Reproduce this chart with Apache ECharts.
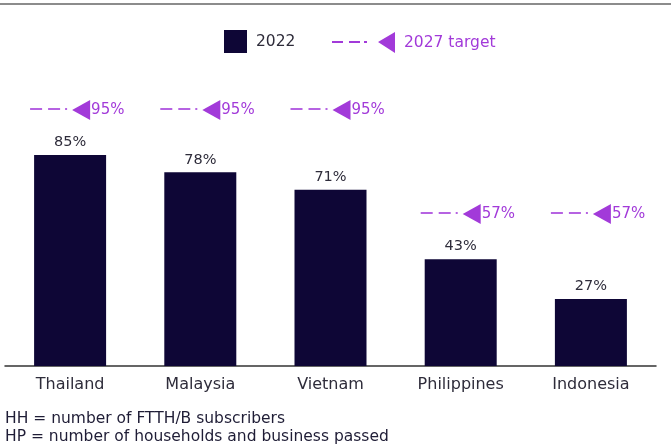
<!DOCTYPE html>
<html>
<head>
<meta charset="utf-8">
<script src="https://cdn.jsdelivr.net/npm/echarts@6/dist/echarts.min.js"></script>
<style>
  html, body { margin: 0; padding: 0; background: #ffffff; }
  #chart { width: 671px; height: 446px; }
</style>
</head>
<body>
<div id="chart"></div>
<script>
// 数据
var countries = ['Thailand', 'Malaysia', 'Vietnam', 'Philippines', 'Indonesia'];
var values2022 = [85, 78, 71, 43, 27];
var targets2027 = [95, 95, 95, 57, 57];
var footnotes = ['HH = number of FTTH/B subscribers', 'HP = number of households and business passed'];

var FONT = '"DejaVu Sans", "Open Sans", sans-serif';
var BAR = '#0e0636';
var PURPLE = '#a23ad9';
var DASH = '#b663e2';
var TEXT = '#2e2c3a';

var chart = echarts.init(document.getElementById('chart'));

// 目标标记：虚线 + 三角 + 数值
function renderTarget(params, api) {
    var p = api.coord([api.value(0), api.value(1)]);
    var x = p[0], y = p[1];
    return {
        type: 'group',
        children: [
            {type: 'line', shape: {x1: x - 40, y1: y - 1, x2: x - 3, y2: y - 1},
             style: {stroke: DASH, lineWidth: 2, lineDash: [12, 6, 12, 5, 3, 40]}},
            {type: 'polygon', shape: {points: [[x + 2, y], [x + 20, y - 10], [x + 20, y + 10]]},
             style: {fill: PURPLE}},
            {type: 'text', x: x + 21, y: y,
             style: {text: api.value(1) + '%', fill: PURPLE, font: '15px ' + FONT,
                     verticalAlign: 'middle', align: 'left'}}
        ]
    };
}

var option = {
    backgroundColor: '#ffffff',
    animation: false,
    textStyle: {fontFamily: FONT},
    legend: [{
        left: 219, top: 25,
        itemWidth: 23, itemHeight: 23,
        textStyle: {color: TEXT, fontSize: 15.5, padding: [0, 0, 0, 4]},
        data: [{name: '2022', icon: 'rect'}]
    }, {
        left: 327, top: 27,
        itemWidth: 63, itemHeight: 21,
        textStyle: {color: PURPLE, fontSize: 15.5, padding: [0, 0, 0, 4]},
        data: [{
            name: '2027 target',
            icon: 'path://M0,9h11v2h-11z M17,9h11v2h-11z M32,9h3v2h-3z M46,10L63,0L63,21Z',
            itemStyle: {color: PURPLE}
        }]
    }],
    grid: {left: 5, right: 15, top: 68, bottom: 80},
    xAxis: {
        type: 'category',
        data: countries,
        axisLine: {lineStyle: {color: '#333', width: 1.5}},
        axisTick: {show: false},
        axisLabel: {color: TEXT, fontSize: 16, margin: 11}
    },
    yAxis: [
        {type: 'value', min: 0, max: 120, show: false},
        {type: 'value', min: 1.5, max: 110.3, show: false}
    ],
    series: [{
        name: '2022',
        type: 'bar',
        data: values2022,
        barWidth: 72,
        itemStyle: {color: BAR},
        label: {show: true, position: 'top', distance: 5, formatter: '{c}%',
                color: TEXT, fontSize: 14.5}
    }, {
        name: '2027 target',
        type: 'custom',
        yAxisIndex: 1,
        clip: false,
        itemStyle: {color: PURPLE},
        data: targets2027.map(function (v, i) { return [i, v]; }),
        renderItem: renderTarget
    }],
    graphic: [
        {type: 'rect', left: 0, top: 3, shape: {width: 671, height: 2}, style: {fill: '#8c8c8c'}},
        {type: 'text', x: 5, y: 419, style: {text: footnotes[0], fill: '#1f1d36', font: '15.5px ' + FONT, verticalAlign: 'middle'}},
        {type: 'text', x: 5, y: 437, style: {text: footnotes[1], fill: '#1f1d36', font: '15.5px ' + FONT, verticalAlign: 'middle'}}
    ]
};

chart.setOption(option);
</script>
</body>
</html>
